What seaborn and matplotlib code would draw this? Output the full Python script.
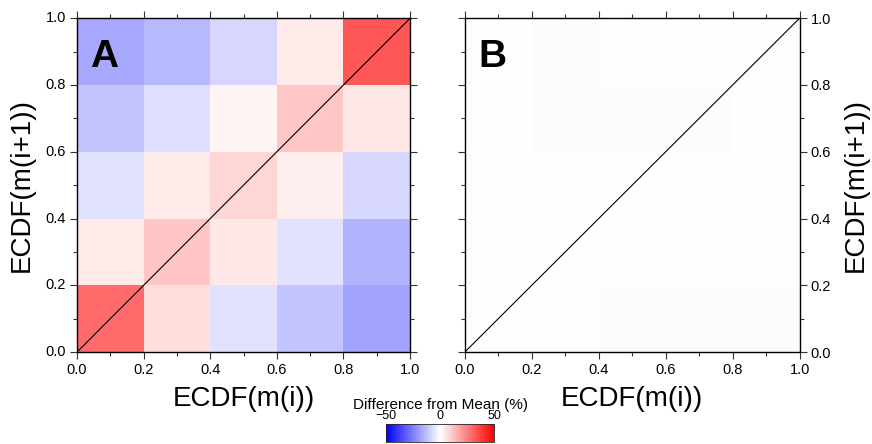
import numpy as np
import matplotlib
matplotlib.use("Agg")
import matplotlib.pyplot as plt
from matplotlib.ticker import MultipleLocator
import seaborn as sns

sns.set_style("white")
plt.rcParams['font.family'] = ['Liberation Sans', 'DejaVu Sans']
plt.rcParams['text.color'] = 'black'
plt.rcParams['axes.labelcolor'] = 'black'
plt.rcParams['xtick.color'] = 'black'
plt.rcParams['ytick.color'] = 'black'

# ECDF bin edges and tick labels
tick_vals = [0.0, 0.2, 0.4, 0.6, 0.8, 1.0]
tick_labels = ["0.0", "0.2", "0.4", "0.6", "0.8", "1.0"]

# difference from mean (%), rows from bottom (0.0-0.2) to top (0.8-1.0)
diff_a = [
    [29.0, 6.5, -5.7, -11.5, -18.0],
    [4.0, 11.5, 4.5, -5.7, -15.0],
    [-6.0, 4.0, 8.0, 3.5, -8.0],
    [-11.5, -6.5, 2.0, 11.0, 5.0],
    [-17.0, -14.0, -8.0, 4.0, 33.0],
]
diff_b = [
    [0.5, -0.3, -0.5, -0.5, -0.4],
    [-0.3, 0.0, 0.0, 0.0, -0.2],
    [-0.3, 0.0, 0.0, 0.0, 0.0],
    [0.0, -0.5, -0.4, -0.6, 0.3],
    [0.0, -0.4, -0.2, -0.2, 0.2],
]
panel_names = ["A", "B"]

fig = plt.figure(figsize=(8.72, 4.44), dpi=100)
ax_a = fig.add_axes([0.0883, 0.207, 0.382, 0.752])
ax_b = fig.add_axes([0.533, 0.207, 0.384, 0.752])
cax = fig.add_axes([0.4427, 0.0045, 0.124, 0.041])

n = len(tick_vals) - 1
for ax, data, name in zip([ax_a, ax_b], [diff_a, diff_b], panel_names):
    sns.heatmap(np.array(data), ax=ax, cmap="bwr", vmin=-50, vmax=50,
                cbar=False, square=False)
    ax.set_xlim(0, n)
    ax.set_ylim(0, n)
    ax.plot([0, n], [0, n], color="black", lw=0.8)
    for s in ax.spines.values():
        s.set_visible(True)
        s.set_color("black")
        s.set_linewidth(1.0)
    ax.set_xticks(np.arange(n + 1))
    ax.set_xticklabels(tick_labels, rotation=0)
    ax.set_yticks(np.arange(n + 1))
    ax.set_yticklabels(tick_labels, rotation=0)
    ax.xaxis.set_minor_locator(MultipleLocator(0.5))
    ax.yaxis.set_minor_locator(MultipleLocator(0.5))
    ax.tick_params(which="both", direction="out", top=True, right=True,
                   bottom=True, left=True, color="#333333", width=0.8)
    ax.tick_params(which="major", length=5, labelsize=10.5, pad=3)
    ax.tick_params(which="minor", length=3)
    ax.set_xlabel("ECDF(m(i))", fontsize=20, labelpad=6)
    ax.set_ylabel("ECDF(m(i+1))", fontsize=20, labelpad=8)
    ax.text(0.04, 0.855, name, transform=ax.transAxes, fontsize=28,
            fontweight="bold", va="baseline", ha="left", color="black")

ax_b.yaxis.tick_right()
ax_b.yaxis.set_label_position("right")
ax_b.tick_params(which="both", left=True, right=True, labelleft=False, labelright=True)

cb = fig.colorbar(ax_a.collections[0], cax=cax, orientation="horizontal")
cb.set_ticks([-50, 0, 50])
cb.set_ticklabels(["\u221250", "0", "50"])
cb.ax.xaxis.set_ticks_position("top")
cb.ax.xaxis.set_label_position("top")
cb.ax.xaxis.set_minor_locator(MultipleLocator(12.5))
cb.ax.tick_params(which="both", direction="in", labelsize=9, pad=1, length=3, width=0.6)
cb.ax.tick_params(which="minor", length=2)
cb.set_label("Difference from Mean (%)", fontsize=11, labelpad=1)
cb.outline.set_linewidth(0.6)

fig.savefig("out.png", dpi=100)
